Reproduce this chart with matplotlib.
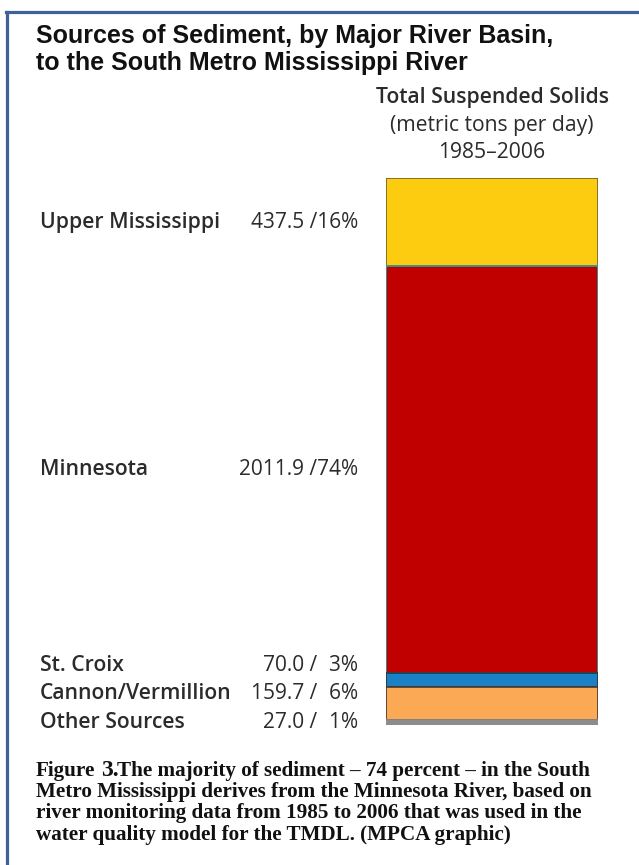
import matplotlib
matplotlib.use("Agg")
import matplotlib.pyplot as plt
from matplotlib.lines import Line2D
from matplotlib.transforms import blended_transform_factory
import numpy as np

# sediment sources, top of bar to bottom
basins = ["Upper Mississippi", "Minnesota", "St. Croix", "Cannon/Vermillion", "Other Sources"]
tons_per_day = [437.5, 2011.9, 70.0, 159.7, 27.0]
percents = [16, 74, 3, 6, 1]
colors = ["#fdcb10", "#c00000", "#1b80c4", "#fba955", "#8c8c8c"]
edges = ["#6e6430", "#2aa0a0", "#26343f", "#4a3a2a", "#8c8c8c"]

W, H = 639, 865
fig = plt.figure(figsize=(W / 100, H / 100), dpi=100)
fig.patch.set_facecolor("white")

def fx(px):
    return px / W

def fy(py):
    return 1 - py / H

# blue frame (left and top only, the rest is cropped)
border = "#3d6199"
fig.add_artist(Line2D([fx(7), fx(7)], [fy(12), 0], color=border, lw=2.3, transform=fig.transFigure))
fig.add_artist(Line2D([fx(6), 1], [fy(12), fy(12)], color=border, lw=2.3, transform=fig.transFigure))

# title
fig.text(fx(36), fy(36), "Sources of Sediment, by Major River Basin,", fontsize=18,
         fontweight="bold", family="Liberation Sans", va="center", color="#111111")
fig.text(fx(36), fy(63), "to the South Metro Mississippi River", fontsize=18,
         fontweight="bold", family="Liberation Sans", va="center", color="#111111")

# column header
hdr = dict(ha="center", va="center", fontsize=15.2, family="Open Sans", color="#2b2b2b")
fig.text(fx(492), fy(97), "Total Suspended Solids", fontweight="semibold", **hdr)
fig.text(fx(492), fy(125), "(metric tons per day)", **hdr)
fig.text(fx(492), fy(153), "1985\u20132006", **hdr)

# stacked bar
ax = fig.add_axes([fx(386), fy(725), fx(598) - fx(386), (725 - 178) / H])
total = sum(tons_per_day)
bottoms = np.concatenate([[0], np.cumsum(tons_per_day)[:-1]])
for v, b, c, e in zip(tons_per_day, bottoms, colors, edges):
    ax.bar(0, v, bottom=b, width=1, color=c, edgecolor=e, linewidth=1.2)
ax.set_xlim(-0.5, 0.5)
ax.set_ylim(total, 0)
ax.axis("off")

# label positions: segment centres, pushed apart at the bottom
centers = bottoms + np.array(tons_per_day) / 2
gap = 28.5 / 547 * total
pos = centers.copy()
for i in range(len(pos) - 2, -1, -1):
    pos[i] = min(pos[i], pos[i + 1] - gap)

tr = blended_transform_factory(fig.transFigure, ax.transData)
for name, v, p, y in zip(basins, tons_per_day, percents, pos):
    ax.text(fx(40), y, name, transform=tr, ha="left", va="center", fontsize=15.2,
            fontweight="semibold", family="Open Sans", color="#2b2b2b")
    pct = f"{p}%" if p >= 10 else f"\u2007{p}%"
    ax.text(fx(358), y, f"{v:.1f} /{pct}", transform=tr, ha="right",
            va="center", fontsize=15, family=["Open Sans", "DejaVu Sans"], color="#2b2b2b")

# caption
cap = dict(fontsize=15.2, fontweight="bold", family="Liberation Serif", va="baseline", color="#111111")
fig.text(fx(36), fy(776), "Figure", **cap)
fig.text(fx(101), fy(776), "3.", fontsize=17, fontweight="bold", family="Liberation Serif",
         va="baseline", color="#111111")
fig.text(fx(117), fy(776), "The majority of sediment \u2013 74 percent \u2013 in the South", **cap)
fig.text(fx(36), fy(797), "Metro Mississippi derives from the Minnesota River, based on", **cap)
fig.text(fx(36), fy(818), "river monitoring data from 1985 to 2006 that was used in the", **cap)
fig.text(fx(36), fy(840), "water quality model for the TMDL. (MPCA graphic)", **cap)

fig.savefig("out.png", dpi=100)
